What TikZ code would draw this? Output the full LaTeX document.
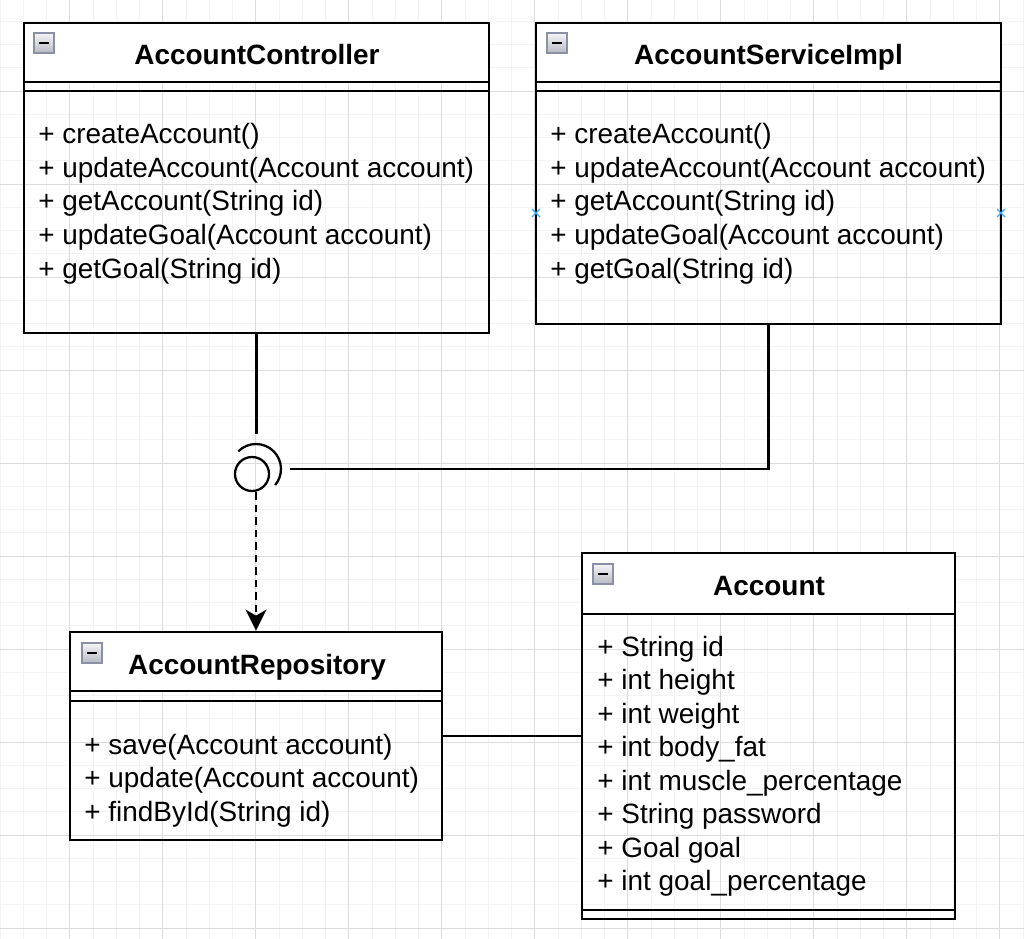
\documentclass[tikz,border=0pt]{standalone}
\usepackage{fontspec}
\setmainfont{Liberation Sans}
\usetikzlibrary{arrows.meta,calc,positioning}
\definecolor{GridMinor}{HTML}{F3F3F3}
\definecolor{GridMajor}{HTML}{DCDCDC}
\definecolor{IconEdge}{HTML}{8A90A6}
\definecolor{IconTop}{HTML}{F5F5F7}
\definecolor{IconBottom}{HTML}{B7BAC4}
\definecolor{PortBlue}{HTML}{3FA9F5}

\tikzset{
  umlbox/.style={draw, line width=1.6pt, inner sep=0pt},
  umlrule/.style={line width=1.5pt},
  umltitle/.style={anchor=base, inner sep=0pt, font=\bfseries\fontsize{15.9pt}{19pt}\selectfont},
  umlentry/.style={anchor=base west, inner sep=0pt, font=\fontsize{15.9pt}{19pt}\selectfont},
  wire/.style={line width=1.3pt},
  portmark/.style={PortBlue, line width=0.7pt},
}
\newcommand{\minusicon}[2]{%
  \draw[IconEdge, top color=IconTop, bottom color=IconBottom, line width=0.8pt] (#1,#2) rectangle ++(20,20);
  \draw[line width=1.4pt] (#1+5,#2+10) -- ++(10,0);
}

\begin{document}
\begin{tikzpicture}[x=0.02cm, y=-0.02cm]
  \fill[white] (0,0) rectangle (1024,939);
  \useasboundingbox (0,0) rectangle (1024,939);
  % grid
  \foreach \i in {0,...,44}{
    \draw[GridMinor, line width=0.5pt] (\i*23.25,0) -- (\i*23.25,939);
  }
  \foreach \j in {0,...,40}{
    \draw[GridMinor, line width=0.5pt] (0,\j*23.25-2) -- (1024,\j*23.25-2);
  }
  \foreach \i in {0,...,10}{
    \draw[GridMajor, line width=0.5pt] (69.75+\i*93,0) -- (69.75+\i*93,939);
  }
  \foreach \j in {1,...,10}{
    \draw[GridMajor, line width=0.5pt] (0,\j*93-2) -- (1024,\j*93-2);
  }

  % header fills
  \fill[white] (24,23) rectangle (489,82);
  \fill[white] (536,23) rectangle (1001,82);
  \fill[white] (70,632) rectangle (442,691);
  \fill[white] (582,553) rectangle (955,614);

  % classes
  \node[umlbox, minimum width=9.3cm, minimum height=6.2cm] (ctrl) at (256.5,178) {};
  \node[umlbox, minimum width=9.3cm, minimum height=6.02cm] (svc) at (768.5,173.5) {};
  \node[umlbox, minimum width=7.44cm, minimum height=4.16cm] (repo) at (256,736) {};
  \node[umlbox, minimum width=7.46cm, minimum height=7.32cm] (acct) at (768.5,736) {};

  \draw[umlrule] (24,82) -- (489,82) (24,91) -- (489,91);
  \draw[umlrule] (536,82) -- (1001,82) (536,91) -- (1001,91);
  \draw[umlrule] (70,691) -- (442,691) (70,701) -- (442,701);
  \draw[umlrule] (582,614) -- (955,614) (582,910) -- (955,910);

  \minusicon{34}{33}
  \minusicon{547}{33}
  \minusicon{82}{643}
  \minusicon{593}{564}

  \node[umltitle] (ctrl-title) at (257,65) {AccountController};
  \node[umltitle] (svc-title) at (768.5,65) {AccountServiceImpl};
  \node[umltitle] (repo-title) at (257,674) {AccountRepository};
  \node[umltitle] (acct-title) at (769,595) {Account};

  \foreach \t [count=\i] in {createAccount(), updateAccount(Account account), getAccount(String id), updateGoal(Account account), getGoal(String id)}{
    \node[umlentry] (ctrl-m\i) at (38,110.5+\i*33.5) {+ \t};
    \node[umlentry] (svc-m\i) at (550,110.5+\i*33.5) {+ \t};
  }
  \foreach \t [count=\i] in {save(Account account), update(Account account), findById(String id)}{
    \node[umlentry] (repo-m\i) at (84,720.5+\i*33.5) {+ \t};
  }
  \foreach \t [count=\i] in {String id, int height, int weight, int body\_fat, int muscle\_percentage, String password, Goal goal, int goal\_percentage}{
    \node[umlentry] (acct-a\i) at (597,622.5+\i*33.5) {+ \t};
  }

  % port marks
  \foreach \px in {536,1001}{
    \draw[portmark] (\px-4,209) -- (\px+4,217) (\px-4,217) -- (\px+4,209);
  }

  % interface
  \node[circle, draw, line width=1.3pt, minimum size=0.68cm, inner sep=0pt] (ball) at (252,474) {};
  \coordinate (sock) at (256,469);
  \draw[wire] ($(sock)+(-135:25)$) arc[start angle=-135, end angle=40, radius=25];
  \coordinate (ctrl-end) at (256.5,434);
  \coordinate (svc-end) at (290,469);

  \draw[wire] (ctrl.south) -- (ctrl-end);
  \draw[wire] (svc.south) |- (svc-end);
  \draw[wire, dash pattern=on 0.15cm off 0.1cm, -{Stealth[length=0.42cm, width=0.42cm, inset=0.12cm]}] (ball.south -| repo.north) -- (repo.north);
  \draw[wire] (repo.east) -- (acct.west);
\end{tikzpicture}
\end{document}
